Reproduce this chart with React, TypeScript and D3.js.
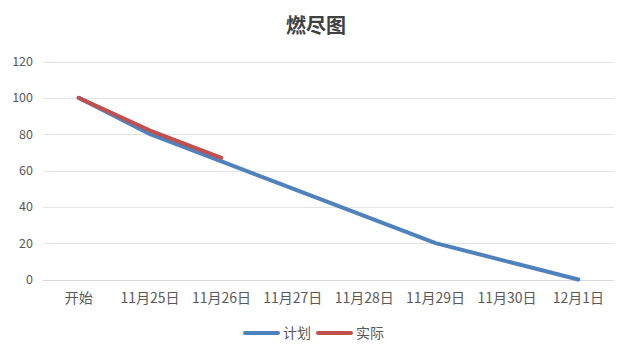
import React from "react";
import * as d3 from "d3";

const categories = ["开始", "11月25日", "11月26日", "11月27日", "11月28日", "11月29日", "11月30日", "12月1日"];
const planValues = [100, 80, 65, 50, 35, 20, 10, 0];
const actualValues = [100, 82, 67];
const yTicks = [0, 20, 40, 60, 80, 100, 120];
const seriesNames = ["计划", "实际"];
const seriesColors = ["#4F81BD", "#C0504D"];

const W = 632, H = 355;
const left = 43, right = 614, top = 61.5, bottom = 279.5;
const font = "'Noto Sans CJK SC', 'Noto Sans', sans-serif";

export default function App() {
  const x = d3.scaleBand<string>().domain(categories).range([left, right]);
  const y = d3.scaleLinear().domain([0, 120]).range([bottom, top]);
  const cx = (i: number) => (x(categories[i]) as number) + x.bandwidth() / 2;
  const line = d3.line<number>().x((_, i) => cx(i)).y((d) => y(d));
  return (
    <svg width={W} height={H} style={{ position: "absolute", left: 0, top: 0, background: "#fff" }}>
      <text x={W / 2} y={33} textAnchor="middle" fontFamily={font} fontSize={20} fontWeight="bold" fill="#404040">燃尽图</text>
      {yTicks.map((t) => (
        <g key={t}>
          <line x1={left} x2={right} y1={Math.round(y(t)) + 0.5} y2={Math.round(y(t)) + 0.5} stroke={t === 0 ? "#d9d9d9" : "#e3e3e3"} strokeWidth={1} />
          <text x={33} y={y(t) + 4.5} textAnchor="end" fontFamily={font} fontSize={12.5} fill="#595959">{t}</text>
        </g>
      ))}
      {categories.map((c, i) => (
        <text key={c} x={cx(i)} y={303} textAnchor="middle" fontFamily={font} fontSize={14} fill="#595959">{c}</text>
      ))}
      <path d={line(planValues) as string} fill="none" stroke={seriesColors[0]} strokeWidth={4} strokeLinecap="round" strokeLinejoin="round" />
      <path d={line(actualValues) as string} fill="none" stroke={seriesColors[1]} strokeWidth={4} strokeLinecap="round" strokeLinejoin="round" />
      {seriesNames.map((n, i) => {
        const lx = 245 + i * 73;
        return (
          <g key={n}>
            <line x1={lx} x2={lx + 33} y1={333} y2={333} stroke={seriesColors[i]} strokeWidth={4} strokeLinecap="round" />
            <text x={lx + 38} y={338} fontFamily={font} fontSize={14} fill="#595959">{n}</text>
          </g>
        );
      })}
    </svg>
  );
}
